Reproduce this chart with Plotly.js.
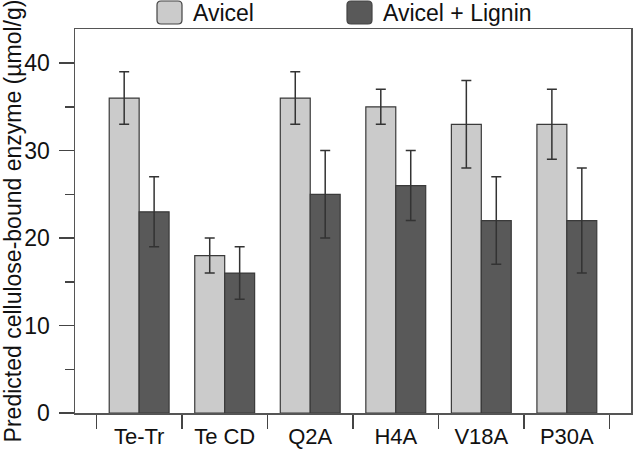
<!DOCTYPE html>
<html><head><meta charset="utf-8">
<script src="https://cdn.plot.ly/plotly-3.0.1.min.js"></script>
<style>html,body{margin:0;padding:0;background:#fff}#chart{width:633px;height:452px}</style>
</head><body><div id="chart"></div>
<script>
const categories = ['Te-Tr', 'Te CD', 'Q2A', 'H4A', 'V18A', 'P30A'];
const seriesNames = ['Avicel', 'Avicel + Lignin'];
const avicel = [36, 18, 36, 35, 33, 33];
const avicelErr = [3, 2, 3, 2, 5, 4];
const lignin = [23, 16, 25, 26, 22, 22];
const ligninErr = [4, 3, 5, 4, 5, 6];
const yTickVals = [0, 10, 20, 30, 40];
const yTitle = 'Predicted cellulose-bound enzyme (\u00B5mol/g)';

const LIGHT = '#cbcbcb', DARK = '#595959', EDGE = '#3a3a3a', FONT = 'Liberation Sans, Arial, Helvetica, sans-serif';
const L = 75, T = 29, W = 556, H = 384;
const px = x => (x - L) / W;
const py = y => (T + H - y) / H;

function errBar(arr) {
  return {type: 'data', array: arr, visible: true, color: '#333', thickness: 1.5, width: 5};
}
const traces = [
  {type: 'bar', name: seriesNames[0], x: categories, y: avicel, error_y: errBar(avicelErr),
   marker: {color: LIGHT, line: {color: EDGE, width: 1.2}}, showlegend: false},
  {type: 'bar', name: seriesNames[1], x: categories, y: lignin, error_y: errBar(ligninErr),
   marker: {color: DARK, line: {color: EDGE, width: 1.2}}, showlegend: false}
];

function roundRect(x0, y0, x1, y1, r) {
  const P = (x, y) => px(x) + ',' + py(y);
  return 'M' + P(x0 + r, y0) + ' L' + P(x1 - r, y0) + ' Q' + P(x1, y0) + ' ' + P(x1, y0 + r) +
    ' L' + P(x1, y1 - r) + ' Q' + P(x1, y1) + ' ' + P(x1 - r, y1) +
    ' L' + P(x0 + r, y1) + ' Q' + P(x0, y1) + ' ' + P(x0, y1 - r) +
    ' L' + P(x0, y0 + r) + ' Q' + P(x0, y0) + ' ' + P(x0 + r, y0) + ' Z';
}
const swatches = [[157, LIGHT], [347, DARK]];
const shapes = swatches.map(s => ({type: 'path', xref: 'paper', yref: 'paper',
  path: roundRect(s[0], 1, s[0] + 25, 24, 4), fillcolor: s[1], line: {color: '#444', width: 1.2}}));
const annotations = swatches.map((s, i) => ({xref: 'paper', yref: 'paper', x: px(s[0] + 34), y: py(12.5),
  xanchor: 'left', yanchor: 'middle', showarrow: false, text: seriesNames[i],
  font: {family: FONT, size: 23, color: '#111'}}));

const layout = {
  width: 633, height: 452,
  margin: {l: L, r: 633 - L - W, t: T, b: 452 - T - H},
  paper_bgcolor: '#fff', plot_bgcolor: '#fff',
  font: {family: FONT, size: 22, color: '#111'},
  barmode: 'group', bargap: 0.3, bargroupgap: 0,
  showlegend: false,
  xaxis: {type: 'category', range: [-0.75, 5.75], showgrid: false, zeroline: false,
    showline: true, mirror: true, linecolor: '#555', linewidth: 1.5,
    ticks: 'outside', tickson: 'boundaries', ticklen: 14, tickcolor: '#444', tickwidth: 1.5,
    ticklabelstandoff: 3,
    tickfont: {family: FONT, size: 22, color: '#111'}, automargin: false},
  yaxis: {range: [0, 43.9], tickvals: yTickVals, showgrid: false, zeroline: false,
    showline: true, mirror: true, linecolor: '#555', linewidth: 1.5,
    ticks: 'outside', ticklen: 15, tickcolor: '#444', tickwidth: 1.5, ticklabelstandoff: 4,
    minor: {dtick: 5, tick0: 0, ticks: 'outside', ticklen: 9, tickcolor: '#444', tickwidth: 1.5, showgrid: false},
    tickfont: {family: FONT, size: 23, color: '#111'}, automargin: false,
    title: {text: yTitle, standoff: 2, font: {family: FONT, size: 23, color: '#111'}}},
  shapes: shapes,
  annotations: annotations
};
Plotly.newPlot('chart', traces, layout, {displayModeBar: false, staticPlot: true});
</script></body></html>
